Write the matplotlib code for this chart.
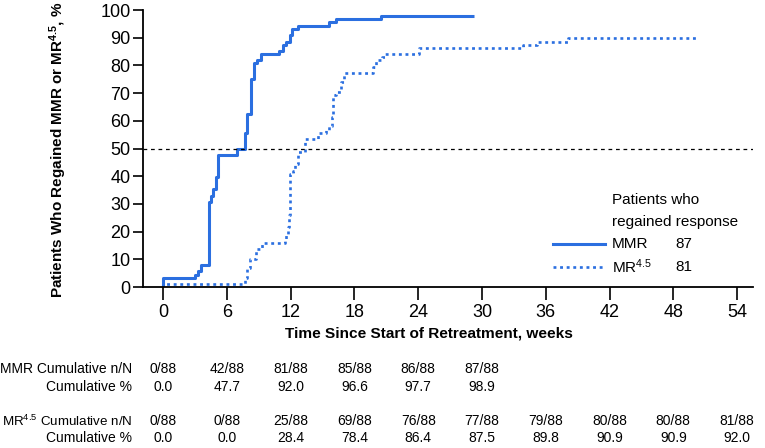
import matplotlib
matplotlib.use("Agg")
import matplotlib.pyplot as plt
import matplotlib.transforms as mtransforms

# Kaplan-Meier style step data (weeks, % regained)
mmr_weeks = [0, 0, 3.0, 3.3, 3.6, 4.3, 4.5, 4.7, 5.0, 5.2, 6.9, 7.7, 7.9, 8.3, 8.5,
             8.8, 9.2, 10.9, 11.3, 11.6, 11.9, 12.1, 12.7, 15.6, 16.3, 20.5, 29.2]
mmr_pct = [0, 3.4, 4.5, 5.7, 8.0, 30.7, 33.0, 35.2, 39.8, 47.7, 50.0, 55.7, 62.5, 75.0, 80.7,
           81.8, 84.1, 85.2, 87.5, 88.6, 90.9, 93.2, 94.3, 95.5, 96.6, 97.7, 97.7]

mr45_weeks = [0, 0, 7.7, 7.9, 8.2, 8.75, 9.3, 11.5, 11.6, 11.7, 11.85, 11.95, 12.2, 12.4,
              12.7, 13.3, 14.6, 15.3, 15.6, 15.9, 16.0, 16.3, 16.7, 17.0, 19.7, 20.0,
              20.6, 20.9, 24.1, 33.9, 35.2, 38.1, 50.4]
mr45_pct = [0, 1.1, 3.4, 6.8, 10.2, 13.6, 15.9, 17.0, 19.3, 21.6, 26.1, 40.9, 42.0, 44.3,
            48.9, 53.4, 55.7, 56.8, 58.0, 61.4, 69.3, 70.5, 73.9, 77.3, 79.5, 81.8,
            83.0, 84.1, 86.4, 87.5, 88.6, 89.8, 89.8]

# numbers-at-risk style table under the plot
table_weeks = [0, 6, 12, 18, 24, 30, 36, 42, 48, 54]
mmr_n = ["0/88", "42/88", "81/88", "85/88", "86/88", "87/88"]
mmr_cum = ["0.0", "47.7", "92.0", "96.6", "97.7", "98.9"]
mr45_n = ["0/88", "0/88", "25/88", "69/88", "76/88", "77/88", "79/88", "80/88", "80/88", "81/88"]
mr45_cum = ["0.0", "0.0", "28.4", "78.4", "86.4", "87.5", "89.8", "90.9", "90.9", "92.0"]

legend_labels = ["MMR", "MR$^{4.5}$"]
legend_counts = ["87", "81"]

blue = "#2b6fe0"

plt.rcParams["font.family"] = ["Liberation Sans", "DejaVu Sans"]
plt.rcParams["mathtext.fontset"] = "custom"
plt.rcParams["mathtext.rm"] = "Liberation Sans"
plt.rcParams["mathtext.it"] = "Liberation Sans"
plt.rcParams["mathtext.bf"] = "Liberation Sans:bold"

fig = plt.figure(figsize=(7.65, 4.48), dpi=100)
ax = fig.add_axes([143 / 765, 1 - 287 / 448, 610 / 765, 277 / 448])

# curves
ax.step(mmr_weeks, mmr_pct, where="post", color=blue, lw=2.2, solid_capstyle="butt")
ax.step(mr45_weeks, mr45_pct, where="post", color=blue, lw=1.9, ls=(0, (1.1, 1.4)))

# 50% reference line
ax.axhline(50, color="black", lw=0.9, ls=(0, (3, 3)))

ax.set_xlim(-1.9, 55.5)
ax.set_ylim(0, 100)
ax.set_xticks(table_weeks)
ax.set_yticks(range(0, 101, 10))
ax.spines["top"].set_visible(False)
ax.spines["right"].set_visible(False)
ax.spines["left"].set_linewidth(1.3)
ax.spines["bottom"].set_linewidth(1.3)
ax.tick_params(axis="y", direction="out", length=7, width=1.2, labelsize=13, pad=2)
ax.tick_params(axis="x", direction="out", length=9, width=1.2, labelsize=13, pad=3)

fig.text(58 / 765, 1 - 149.5 / 448, r"Patients Who Regained MMR or MR$^{\mathbf{4.5}}$, %",
         rotation=90, ha="center", va="center", fontsize=11, fontweight="bold")
fig.text(428.5 / 765, 1 - 333 / 448, "Time Since Start of Retreatment, weeks",
         ha="center", va="center", fontsize=11.1, fontweight="bold")

# legend drawn by hand
ax.text(0.769, 0.314, "Patients who", transform=ax.transAxes, fontsize=11, va="center")
ax.text(0.769, 0.235, "regained response", transform=ax.transAxes, fontsize=11, va="center")
row_y = [0.155, 0.072]
styles = [dict(lw=2.2), dict(lw=1.9, ls=(0, (1.1, 1.4)))]
for y, lab, cnt, st in zip(row_y, legend_labels, legend_counts, styles):
    ax.plot([0.672, 0.757], [y, y], transform=ax.transAxes, color=blue, clip_on=False, **st)
    ax.text(0.769, y, lab, transform=ax.transAxes, fontsize=11, va="center")
    ax.text(0.872, y, cnt, transform=ax.transAxes, fontsize=11, va="center")

# table
trans = mtransforms.blended_transform_factory(ax.transData, fig.transFigure)
rows = [("MMR Cumulative n/N", mmr_n, 369, 10),
        ("Cumulative %", mmr_cum, 387, 10),
        ("MR$^{4.5}$ Cumulative n/N", mr45_n, 421, 9.6),
        ("Cumulative %", mr45_cum, 438, 10)]
for label, values, py, fs in rows:
    fy = 1 - py / 448
    fig.text(132 / 765, fy, label, ha="right", va="center", fontsize=fs)
    for wk, val in zip(table_weeks, values):
        ax.text(wk, fy, val, transform=trans, ha="center", va="center", fontsize=10,
                clip_on=False)

fig.savefig("out.png", dpi=100)
